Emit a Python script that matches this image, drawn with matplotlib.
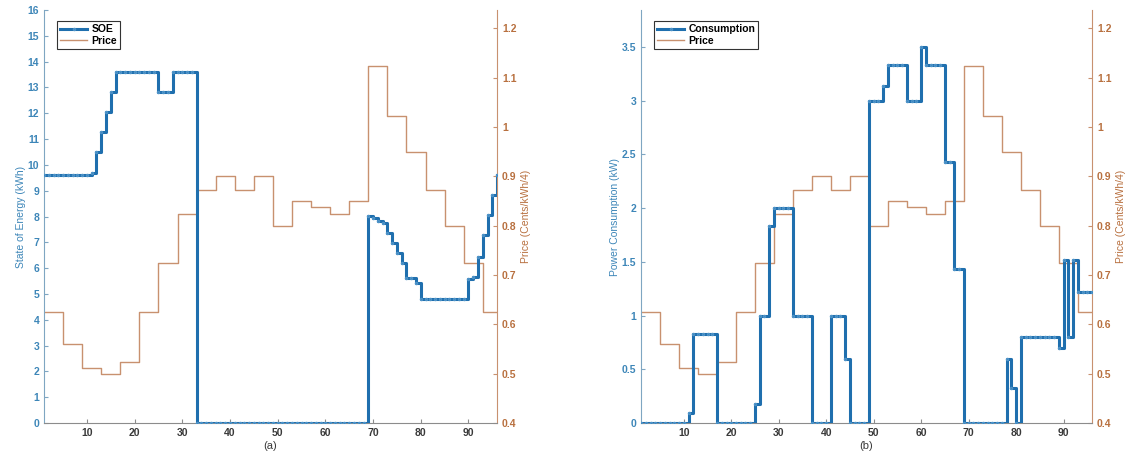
import numpy as np
import matplotlib
matplotlib.use("Agg")
import matplotlib.pyplot as plt

plt.rcParams['font.family'] = ['Liberation Sans', 'DejaVu Sans']

# quarter-hour slots of the day
slots = np.arange(1, 97)

# hourly price (Cents/kWh/4), held for 4 slots each
price_hourly = [0.625, 0.561, 0.512, 0.499, 0.523, 0.624, 0.725, 0.824,
                0.873, 0.900, 0.873, 0.900, 0.799, 0.849, 0.837, 0.824,
                0.849, 1.123, 1.023, 0.949, 0.873, 0.799, 0.724, 0.625]
price = np.repeat(price_hourly, 4)

# state of energy (kWh), one value per slot
soe = ([9.6] * 10 + [9.7, 10.48, 11.28, 12.04, 12.84] + [13.6] * 9
       + [12.84] * 3 + [13.6] * 5 + [0.0] * 36
       + [8.03, 7.93, 7.84, 7.74, 7.35, 6.99, 6.58, 6.19, 5.63, 5.63, 5.41]
       + [4.8] * 10 + [5.58, 5.67, 6.45, 7.29, 8.06, 8.84, 9.6])

# power consumption (kW), one value per slot
consumption = ([0.0] * 10 + [0.09] + [0.83] * 5 + [0.0] * 8 + [0.18]
               + [1.0] * 2 + [1.83] + [2.0] * 4 + [1.0] * 4 + [0.0] * 4
               + [1.0] * 3 + [0.6] + [0.0] * 4 + [3.0] * 3 + [3.14]
               + [3.33] * 4 + [3.0] * 3 + [3.5] + [3.33] * 4 + [2.43] * 2
               + [1.43] * 2 + [0.0] * 9 + [0.6, 0.33, 0.0] + [0.8] * 8
               + [0.7, 1.52, 0.8, 1.52] + [1.22] * 4)

BLUE = '#1f6fae'
BLUE_TXT = '#3d86b8'
ORANGE = '#c8916f'
ORANGE_TXT = '#b8703f'
GREY_TXT = '#3a3a3a'
FS = 7.5


def draw_panel(ax, series, name, ylabel, ylim, yticks, ytick_labels, tag):
    ax2 = ax.twinx()
    l1, = ax.step(slots, series, where='post', color=BLUE, lw=2.2,
                  marker='.', markersize=3, markeredgecolor='#4f94c8',
                  zorder=3)
    l2, = ax2.step(slots, price, where='post', color=ORANGE, lw=1.0)
    ax.set_zorder(ax2.get_zorder() + 1)
    ax.patch.set_visible(False)

    ax.set_xlim(1, 96)
    ax.set_ylim(*ylim)
    ax2.set_ylim(0.4, 1.237)
    ax.set_xticks(range(10, 100, 10))
    ax.set_yticks(yticks)
    ax.set_yticklabels(ytick_labels)
    ax2.set_yticks(np.round(np.arange(0.4, 1.21, 0.1), 1))
    ax2.set_yticklabels(['0.4', '0.5', '0.6', '0.7', '0.8', '0.9', '1', '1.1', '1.2'])

    for a in (ax, ax2):
        a.spines['top'].set_visible(False)
        a.tick_params(direction='in', length=3, labelsize=FS)
    ax.spines['right'].set_visible(False)
    ax.spines['left'].set_color('#7fa6c2')
    ax.spines['bottom'].set_color('#8c8c8c')
    ax2.spines['left'].set_visible(False)
    ax2.spines['bottom'].set_visible(False)
    ax2.spines['right'].set_color(ORANGE)
    ax.tick_params(axis='y', colors='#7fa6c2', labelcolor=BLUE_TXT)
    ax.tick_params(axis='x', colors='#8c8c8c', labelcolor=GREY_TXT)
    ax2.tick_params(axis='y', colors=ORANGE, labelcolor=ORANGE_TXT)
    for lab in ax.get_xticklabels() + ax.get_yticklabels() + ax2.get_yticklabels():
        lab.set_fontweight('bold')

    ax.set_ylabel(ylabel, color=BLUE_TXT, fontsize=FS, labelpad=1)
    ax2.set_ylabel('Price (Cents/kWh/4)', color=ORANGE_TXT, fontsize=FS, labelpad=3)
    ax.set_xlabel(tag, color=GREY_TXT, fontsize=FS + 0.5, labelpad=2)

    leg = ax.legend([l1, l2], [name, 'Price'], loc='upper left',
                    bbox_to_anchor=(0.024, 0.978), fancybox=False,
                    framealpha=1, edgecolor='#333333', handlelength=2.6,
                    borderpad=0.3, labelspacing=0.15, handletextpad=0.4,
                    borderaxespad=0.2, prop={'size': FS, 'weight': 'bold'})
    leg.get_frame().set_linewidth(0.8)


fig = plt.figure(figsize=(11.32, 4.55), dpi=100)
ax_a = fig.add_axes([0.0389, 0.0703, 0.4002, 0.9077])
ax_b = fig.add_axes([0.5663, 0.0703, 0.3984, 0.9077])

draw_panel(ax_a, soe, 'SOE', 'State of Energy (kWh)', (0, 16),
           range(0, 17), [str(v) for v in range(0, 17)], '(a)')
draw_panel(ax_b, consumption, 'Consumption', 'Power Consumption (kW)', (0, 3.845),
           np.arange(0, 3.6, 0.5),
           ['0', '0.5', '1', '1.5', '2', '2.5', '3', '3.5'], '(b)')

fig.savefig('out.png', dpi=100)
